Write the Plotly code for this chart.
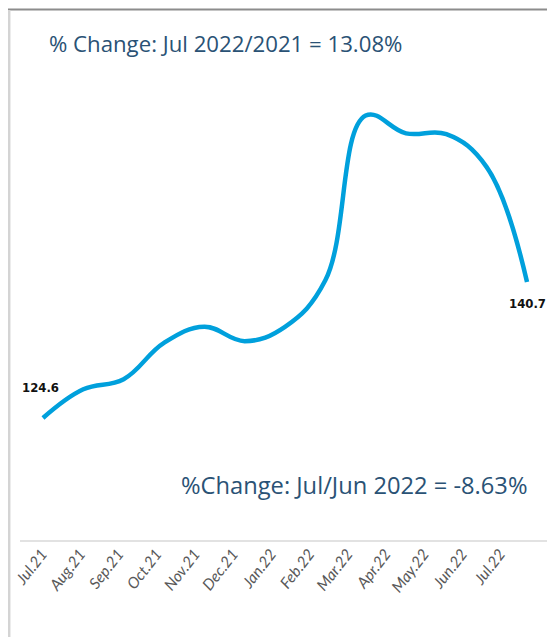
import plotly.graph_objects as go

months = ["Jul.21", "Aug.21", "Sep.21", "Oct.21", "Nov.21", "Dec.21", "Jan.22",
          "Feb.22", "Mar.22", "Apr.22", "May.22", "Jun.22", "Jul.22"]
index_values = [124.6, 128.0, 129.2, 133.5, 135.4, 133.7, 135.4,
                140.9, 160.4, 158.3, 158.2, 154.3, 140.7]
title_text = "% Change: Jul 2022/2021 = 13.08%"
sub_text = "%Change: Jul/Jun 2022 = -8.63%"

# page body adds an 8 px offset; figure sized to fit the window
OFF = 8
W, H = 555 - OFF, 637 - OFF
LINE_COLOR = "#00A0DC"
TEXT_BLUE = "#2A5275"


def px(sx):
    return (sx - OFF) / W


def py(sy):
    return 1 - (sy - OFF) / H


fig = go.Figure()
fig.add_trace(go.Scatter(
    x=months, y=index_values, mode="lines",
    line=dict(color=LINE_COLOR, width=4.5, shape="spline", smoothing=1.15),
    cliponaxis=False, hoverinfo="skip", showlegend=False,
    xaxis="x", yaxis="y",
))
fig.add_trace(go.Scatter(
    x=months, y=index_values, mode="lines", opacity=0,
    line=dict(width=0), hoverinfo="skip", showlegend=False,
    xaxis="x2", yaxis="y",
))

LABEL_FONT = dict(family="DejaVu Sans Condensed, Roboto Condensed, DejaVu Sans",
                  size=13, color="#111111")
fig.add_annotation(x=months[0], y=index_values[0], xref="x", yref="y",
                   text=f"<b>{index_values[0]:.1f}</b>", showarrow=False,
                   xshift=-2, yshift=31, font=LABEL_FONT)
fig.add_annotation(x=months[-1], y=index_values[-1], xref="x", yref="y",
                   text=f"<b>{index_values[-1]:.1f}</b>", showarrow=False,
                   xshift=0, yshift=-21, font=LABEL_FONT)

fig.add_annotation(x=px(47), y=py(43), xref="paper", yref="paper",
                   xanchor="left", yanchor="middle", showarrow=False,
                   text=title_text,
                   font=dict(family="Open Sans", size=22.2, color=TEXT_BLUE))
fig.add_annotation(x=px(529), y=py(485), xref="paper", yref="paper",
                   xanchor="right", yanchor="middle", showarrow=False,
                   text=sub_text,
                   font=dict(family="Open Sans", size=23.7, color=TEXT_BLUE))

# frame lines and axis baseline
fig.add_shape(type="line", xref="paper", yref="paper",
              x0=0, x1=1, y0=py(9.5), y1=py(9.5),
              line=dict(color="#8C8C8C", width=2))
fig.add_shape(type="line", xref="paper", yref="paper",
              x0=1.2 / W, x1=1.2 / W, y0=0, y1=py(10),
              line=dict(color="#D4D4D4", width=2.5))
fig.add_shape(type="line", xref="paper", yref="paper",
              x0=px(20), x1=1, y0=py(541), y1=py(541),
              line=dict(color="#D9D9D9", width=1.5))

fig.update_layout(
    width=W, height=H,
    margin=dict(l=0, r=0, t=0, b=0),
    paper_bgcolor="white", plot_bgcolor="rgba(0,0,0,0)",
    showlegend=False,
    xaxis=dict(type="category", domain=[px(22.8), px(547.2)], range=[-0.5, 12.5],
               showticklabels=False, showgrid=False, zeroline=False, showline=False,
               ticks="", anchor="y", automargin=False),
    xaxis2=dict(type="category", domain=[px(22.9), px(519.1)], range=[-0.5, 12.5],
                showgrid=False, zeroline=False, showline=False, ticks="",
                tickangle=-52, anchor="y", side="bottom", automargin=False,
                tickfont=dict(family="Lato", size=15.5, color="#595959", style="italic")),
    yaxis=dict(domain=[1 - (541 - OFF) / H, 1], range=[110.04, 174.085 - 8 / 8.447],
               visible=False, showgrid=False, zeroline=False, automargin=False),
)

fig.write_html("out.html")
